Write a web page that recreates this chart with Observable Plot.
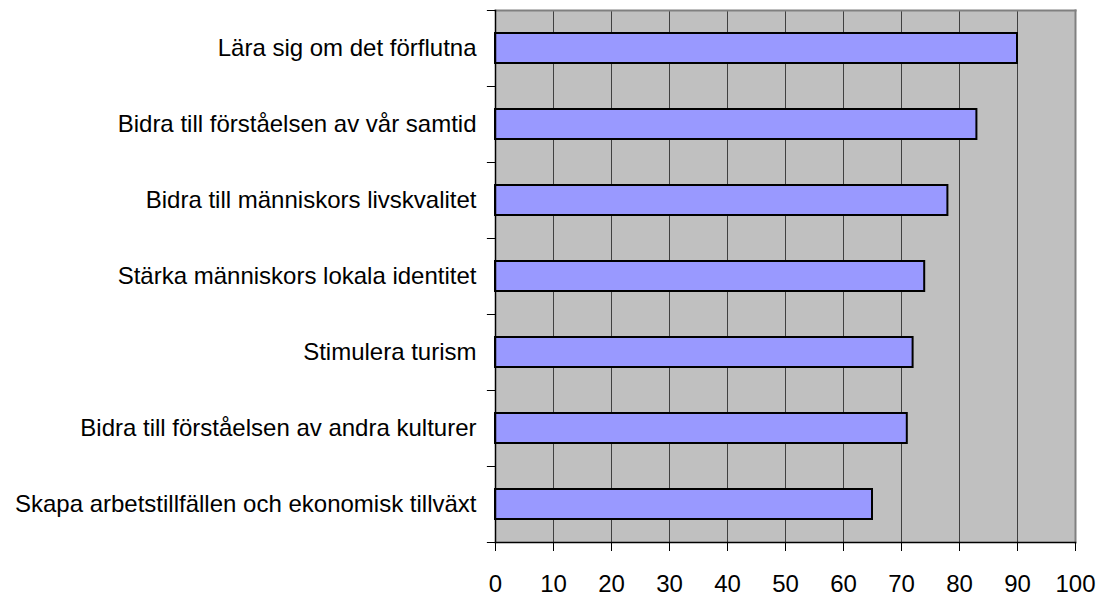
<!DOCTYPE html>
<html><head><meta charset="utf-8">
<script src="https://cdn.jsdelivr.net/npm/d3@7"></script>
<script src="https://cdn.jsdelivr.net/npm/@observablehq/plot@0.6"></script>
<style>body{margin:0;background:#fff;} svg{display:block;}</style>
</head><body><div id="chart"></div>
<script>
const categories = [
  "Lära sig om det förflutna",
  "Bidra till förståelsen av vår samtid",
  "Bidra till människors livskvalitet",
  "Stärka människors lokala identitet",
  "Stimulera turism",
  "Bidra till förståelsen av andra kulturer",
  "Skapa arbetstillfällen och ekonomisk tillväxt"
];
const values = [90, 83, 78, 74, 72, 71, 65];
const xTicks = [0, 10, 20, 30, 40, 50, 60, 70, 80, 90, 100];
const gridTicks = [10, 20, 30, 40, 50, 60, 70, 80, 90];

const data = categories.map((c, i) => ({category: c, value: values[i]}));

const chart = Plot.plot({
  width: 1106,
  height: 596,
  marginLeft: 495,
  marginRight: 31,
  marginTop: 10,
  marginBottom: 54,
  style: {fontFamily: "'Liberation Sans', Arial, sans-serif", fontSize: "24px", background: "#fff", color: "#000"},
  x: {domain: [0, 100]},
  y: {domain: categories, paddingInner: 0.605, paddingOuter: 0.3025},
  marks: [
    Plot.frame({fill: "#c0c0c0", stroke: null}),
    Plot.ruleX(gridTicks, {stroke: "#404040", strokeWidth: 1}),
    Plot.frame({anchor: "top", stroke: "#808080", strokeWidth: 2}),
    Plot.frame({anchor: "right", stroke: "#808080", strokeWidth: 2}),
    Plot.barX(data, {y: "category", x: "value", fill: "#9999ff", stroke: "#000", strokeWidth: 2}),
    Plot.ruleY(categories, {y: d => d, x1: -1.4, x2: 0, dy: -38, stroke: "#000", clip: false}),
    Plot.ruleY(categories.slice(-1), {y: d => d, x1: -1.4, x2: 0, dy: 38, stroke: "#000", clip: false}),
    Plot.axisX({ticks: xTicks, tickSize: 9, tickPadding: 23, fontSize: 24, label: null, tickFormat: d => String(d)}),
    Plot.axisY({tickSize: 0, tickPadding: 19, fontSize: 24, label: null}),
    Plot.frame({anchor: "left", stroke: "#000", strokeWidth: 1.5}),
    Plot.frame({anchor: "bottom", stroke: "#000", strokeWidth: 1.5})
  ]
});
document.getElementById("chart").appendChild(chart);
</script>
</body></html>
